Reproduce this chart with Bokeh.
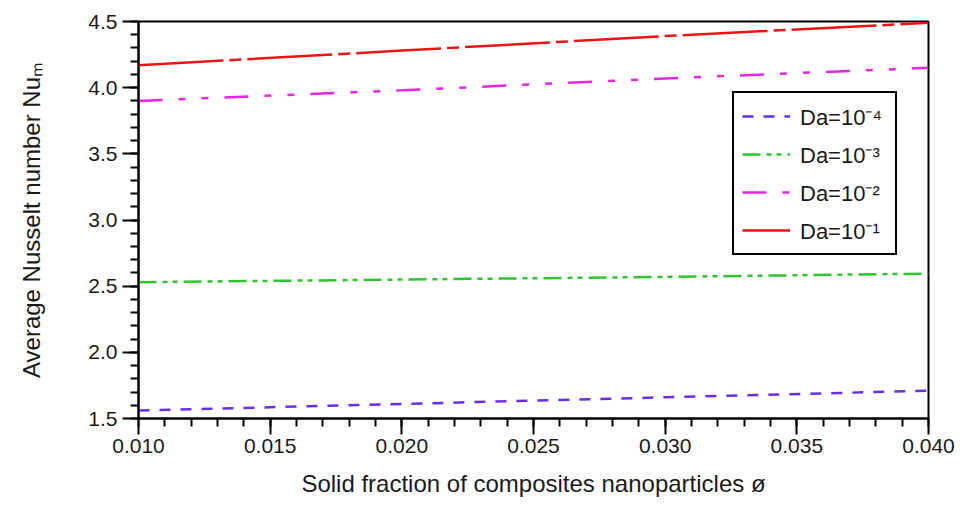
from bokeh.plotting import figure
from bokeh.models import Legend, LegendItem, FixedTicker, Range1d
from bokeh.embed import file_html
from bokeh.resources import INLINE

phi = [0.010, 0.020, 0.030, 0.040]
nu_da4 = [1.56, 1.61, 1.66, 1.71]
nu_da3 = [2.53, 2.55, 2.57, 2.595]
nu_da2 = [3.90, 3.98, 4.07, 4.15]
nu_da1 = [4.17, 4.28, 4.39, 4.49]
labels = ["Da=10\u207b\u2074", "Da=10\u207b\u00b3", "Da=10\u207b\u00b2", "Da=10\u207b\u00b9"]
x_ticks = [0.010, 0.015, 0.020, 0.025, 0.030, 0.035, 0.040]
y_ticks = [1.5, 2.0, 2.5, 3.0, 3.5, 4.0, 4.5]

X0, X1, Y0, Y1 = 0.010, 0.040, 1.5, 4.5
W, H = 955, 508
BL, BT, BR, BB = 138, 21, 27, 90
p = figure(width=W, height=H, output_backend="svg", toolbar_location=None,
           x_range=Range1d(X0, X1), y_range=Range1d(Y0, Y1),
           min_border_left=BL, min_border_right=BR, min_border_top=BT, min_border_bottom=BB)
p.grid.visible = False
p.outline_line_color = "black"
p.outline_line_width = 2
p.background_fill_color = "white"
p.border_fill_color = "white"

r4 = p.line(phi, nu_da4, line_color="#6a2ee8", line_width=2.5, line_dash="11 10")
r3 = p.line(phi, nu_da3, line_color="#2ec42e", line_width=2.5, line_dash="18 6 5 5 5 6")
r2 = p.line(phi, nu_da2, line_color="#e526e5", line_width=2.5, line_dash="24 16 7 16 7 16")
r1 = p.line(phi, nu_da1, line_color="#ea1414", line_width=2.5, line_dash="85 6 12 6")

font = "Liberation Sans"
tc = "#1a1a1a"
for ax in (p.xaxis[0], p.yaxis[0]):
    ax.axis_line_color = "black"
    ax.axis_line_width = 2
    ax.major_tick_line_color = "black"
    ax.major_tick_line_width = 2
    ax.minor_tick_line_color = "black"
    ax.minor_tick_line_width = 2
    ax.major_tick_out = 16
    ax.major_tick_in = 0
    ax.minor_tick_out = 8
    ax.minor_tick_in = 0
    ax.major_label_text_font = font
    ax.major_label_text_font_size = "21px"
    ax.major_label_text_color = tc
    ax.axis_label_text_font = font
    ax.axis_label_text_font_size = "24px"
    ax.axis_label_text_font_style = "normal"
    ax.axis_label_text_color = tc

p.xaxis.ticker = FixedTicker(ticks=x_ticks, minor_ticks=[0.010 + 0.001 * i for i in range(31)])
p.yaxis.ticker = FixedTicker(ticks=y_ticks, minor_ticks=[1.5 + 0.1 * i for i in range(31)])
p.xaxis.major_label_overrides = {t: f"{t:.3f}" for t in x_ticks}
p.yaxis.major_label_overrides = {t: f"{t:.1f}" for t in y_ticks}
p.xaxis.axis_label = "Solid fraction of composites nanoparticles \u00f8"
p.yaxis.axis_label = "Average Nusselt number Nu\u2098"
p.xaxis.major_label_standoff = 4
p.yaxis.major_label_standoff = 5
p.xaxis.axis_label_standoff = 14
p.yaxis.axis_label_standoff = 40

legend = Legend(items=[LegendItem(label=labels[0], renderers=[r4]),
                       LegendItem(label=labels[1], renderers=[r3]),
                       LegendItem(label=labels[2], renderers=[r2]),
                       LegendItem(label=labels[3], renderers=[r1])],
                location=(594, 163), margin=0)
legend.border_line_color = "black"
legend.border_line_alpha = 1
legend.border_line_width = 2
legend.label_text_font = font
legend.label_text_font_size = "22px"
legend.label_text_color = tc
legend.glyph_width = 48
legend.glyph_height = 26
legend.label_height = 26
legend.label_width = 87
legend.spacing = 8
legend.padding = 8
legend.label_standoff = 10
legend.background_fill_alpha = 1
p.add_layout(legend)

open("out.html", "w").write(file_html(p, INLINE))
